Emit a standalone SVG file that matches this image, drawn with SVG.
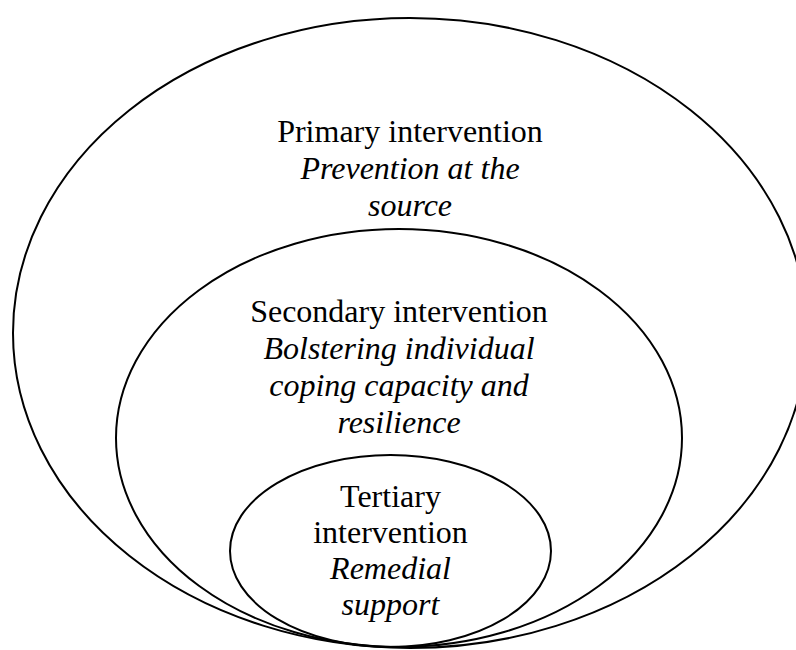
<svg xmlns="http://www.w3.org/2000/svg" width="796" height="650" viewBox="0 0 796 650">
<style>
.ring{fill:none;stroke:#000;stroke-width:2}
.t{font-family:"Liberation Serif","Times New Roman",serif;font-size:32px;fill:#000;text-anchor:middle}
.i{font-style:italic}
</style>
<rect width="796" height="650" fill="#fff"/>
<g id="primary">
<ellipse class="ring" cx="410" cy="333" rx="397" ry="315"/>
<text class="t" x="410" y="142">Primary intervention</text>
<text class="t i" x="410" y="179">Prevention at the</text>
<text class="t i" x="410" y="216">source</text>
</g>
<g id="secondary">
<ellipse class="ring" cx="399" cy="438" rx="283" ry="209"/>
<text class="t" x="399" y="322">Secondary intervention</text>
<text class="t i" x="399" y="359">Bolstering individual</text>
<text class="t i" x="399" y="396">coping capacity and</text>
<text class="t i" x="399" y="433">resilience</text>
</g>
<g id="tertiary">
<ellipse class="ring" cx="390.5" cy="551" rx="160.5" ry="96"/>
<text class="t" x="390.5" y="507">Tertiary</text>
<text class="t" x="390.5" y="543">intervention</text>
<text class="t i" x="390.5" y="579">Remedial</text>
<text class="t i" x="390.5" y="615">support</text>
</g>
<g id="connectors"></g>
</svg>
